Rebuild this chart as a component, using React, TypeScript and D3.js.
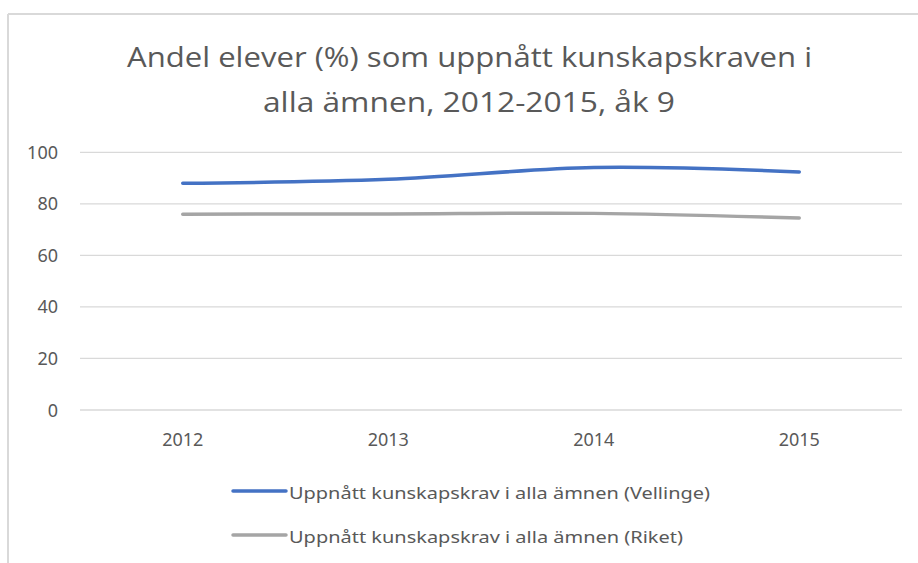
import React from "react";
import * as d3 from "d3";

const years = ["2012", "2013", "2014", "2015"];
const vellinge = [88, 89.5, 94.1, 92.4];
const riket = [76, 76.1, 76.3, 74.5];
const yTicks = [0, 20, 40, 60, 80, 100];
const titleLines = ["Andel elever (%) som uppnått kunskapskraven i", "alla ämnen, 2012-2015, åk 9"];
const seriesNames = [
  "Uppnått kunskapskrav i alla ämnen (Vellinge)",
  "Uppnått kunskapskrav i alla ämnen (Riket)",
];
const seriesColors = ["#4472C4", "#A5A5A5"];

export default function App() {
  const W = 918;
  const H = 563;
  const x = d3.scaleBand<string>().domain(years).range([80, 902]);
  const y = d3.scaleLinear().domain([0, 100]).range([410, 152.3]);
  const cx = (d: string) => (x(d) as number) + x.bandwidth() / 2;
  const line = d3
    .line<number>()
    .x((_, i) => cx(years[i]))
    .y((v) => y(v))
    .curve(d3.curveCatmullRom.alpha(0));
  const series = [vellinge, riket];
  const titleFont = "'Open Sans', 'Liberation Sans', Arial, sans-serif";
  const bodyFont = "'Noto Sans', 'Liberation Sans', sans-serif";
  const titleSpecs = [
    { base: 67, x0: 127, x1: 812 },
    { base: 112, x0: 263, x1: 675 },
  ];
  const legendSpecs = [
    { yLine: 491, base: 499, x1: 710 },
    { yLine: 535, base: 543, x1: 683 },
  ];
  return (
    <svg
      width={W}
      height={H}
      style={{ position: "absolute", left: 0, top: 0, background: "#fff" }}
    >
      <rect x={0} y={0} width={W} height={H} fill="#fff" />
      <line x1={8} y1={14} x2={W} y2={14} stroke="#d9d9d9" strokeWidth={2} />
      <line x1={8} y1={14} x2={8} y2={H} stroke="#d9d9d9" strokeWidth={2} />
      {titleLines.map((t, i) => (
        <text
          key={i}
          x={(titleSpecs[i].x0 + titleSpecs[i].x1) / 2}
          y={titleSpecs[i].base}
          textAnchor="middle"
          fontFamily={titleFont}
          fontSize={28}
          fill="#595959"
          textLength={titleSpecs[i].x1 - titleSpecs[i].x0}
          lengthAdjust="spacingAndGlyphs"
        >
          {t}
        </text>
      ))}
      {yTicks.map((t) => (
        <g key={t}>
          <line x1={80} x2={902} y1={y(t)} y2={y(t)} stroke="#d9d9d9" strokeWidth={1.3} />
          <text
            x={58}
            y={y(t) + 6.5}
            textAnchor="end"
            fontFamily={bodyFont}
            fontSize={18}
            fill="#595959"
          >
            {t}
          </text>
        </g>
      ))}
      {years.map((yr) => (
        <text
          key={yr}
          x={cx(yr)}
          y={446}
          textAnchor="middle"
          fontFamily={bodyFont}
          fontSize={18}
          fill="#595959"
        >
          {yr}
        </text>
      ))}
      {series.map((s, i) => (
        <path
          key={i}
          d={line(s) as string}
          fill="none"
          stroke={seriesColors[i]}
          strokeWidth={3.5}
          strokeLinecap="round"
          strokeLinejoin="round"
        />
      ))}
      {seriesNames.map((n, i) => (
        <g key={n}>
          <line
            x1={233}
            x2={286}
            y1={legendSpecs[i].yLine}
            y2={legendSpecs[i].yLine}
            stroke={seriesColors[i]}
            strokeWidth={3.5}
            strokeLinecap="round"
          />
          <text
            x={289}
            y={legendSpecs[i].base}
            fontFamily={bodyFont}
            fontSize={17}
            fill="#595959"
            textLength={legendSpecs[i].x1 - 289}
            lengthAdjust="spacingAndGlyphs"
          >
            {n}
          </text>
        </g>
      ))}
    </svg>
  );
}
